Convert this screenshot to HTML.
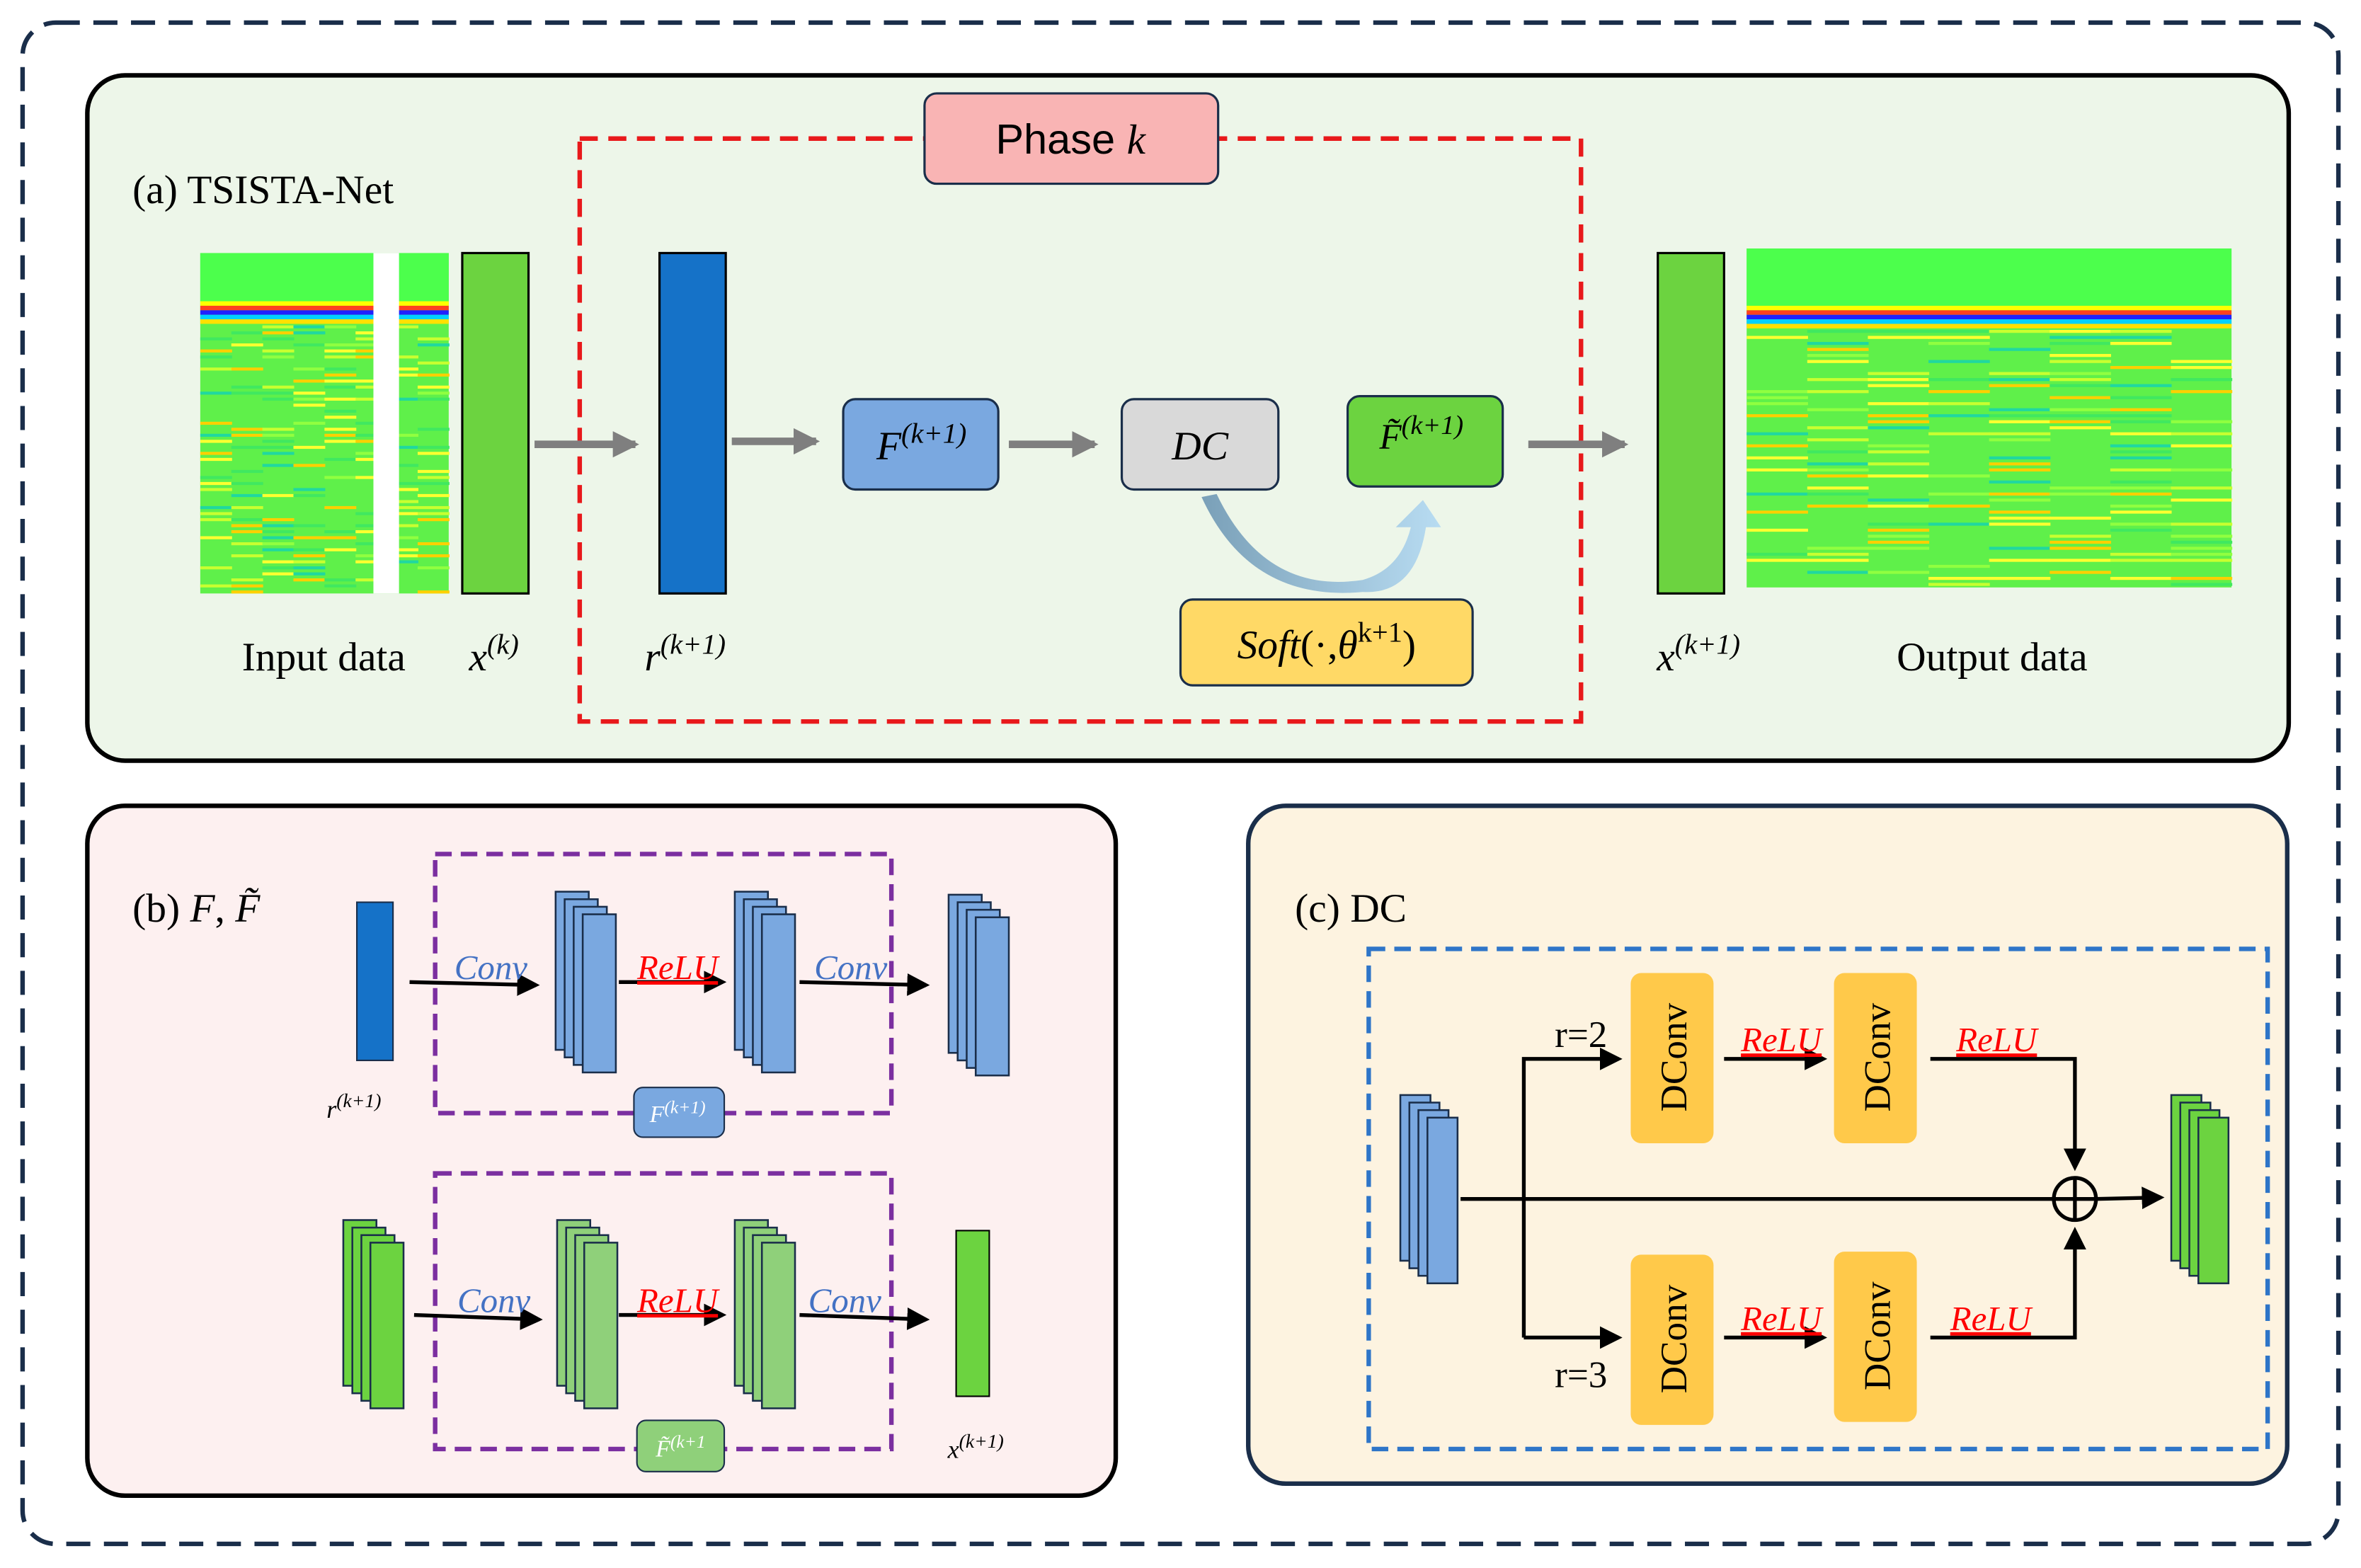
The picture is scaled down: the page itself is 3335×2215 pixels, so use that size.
<!DOCTYPE html>
<html><head><meta charset="utf-8"><style>
html,body{margin:0;padding:0;background:#fff}
svg{display:block}
text{font-family:"Liberation Serif",serif}
</style></head><body>
<svg id="s" width="3335" height="2215" viewBox="0 0 1568 1041" preserveAspectRatio="none" xmlns="http://www.w3.org/2000/svg">
<defs>
<marker id="ag" markerWidth="3.5" markerHeight="3.5" refX="3" refY="1.75" orient="auto" markerUnits="strokeWidth"><path d="M0,0 L3.5,1.75 L0,3.5 z" fill="#7f7f7f"/></marker>
<marker id="ab" markerWidth="6" markerHeight="6" refX="5" refY="3" orient="auto" markerUnits="strokeWidth"><path d="M0,0 L6,3 L0,6 z" fill="#000"/></marker>
<linearGradient id="cg" x1="0" y1="0" x2="1" y2="0"><stop offset="0" stop-color="#7aa0b8"/><stop offset="1" stop-color="#b8dcf2"/></linearGradient>
</defs>
<rect x="15" y="15" width="1538" height="1010" rx="22" fill="none" stroke="#1a2e4a" stroke-width="3" stroke-dasharray="16,9"/>
<!-- panel a -->
<rect x="58" y="50" width="1462" height="455" rx="25" fill="#edf6e9" stroke="#000" stroke-width="3"/>
<rect x="385" y="92" width="665" height="387" fill="none" stroke="#e8191b" stroke-width="3" stroke-dasharray="12,7"/>
<rect x="614" y="62" width="195" height="60" rx="8" fill="#f9b4b4" stroke="#1a2e4a" stroke-width="1.5"/>
<text x="711" y="102" font-size="28" text-anchor="middle" style="font-family:'Liberation Sans',sans-serif">Phase <tspan font-style="italic" style="font-family:'Liberation Serif',serif">k</tspan></text>
<text x="88" y="135" font-size="27">(a) TSISTA-Net</text>
<g id="inimg"></g>
<g id="outimg"></g>
<rect x="307" y="168" width="44" height="226" fill="#6cd340" stroke="#000" stroke-width="1.5"/>
<rect x="438" y="168" width="44" height="226" fill="#1572c8" stroke="#000" stroke-width="1.5"/>
<rect x="1101" y="168" width="44" height="226" fill="#6cd340" stroke="#000" stroke-width="1.5"/>
<g stroke="#7f7f7f" stroke-width="5" fill="none">
<line x1="355" y1="295" x2="422" y2="295" marker-end="url(#ag)"/>
<line x1="486" y1="293" x2="542" y2="293" marker-end="url(#ag)"/>
<line x1="670" y1="295" x2="727" y2="295" marker-end="url(#ag)"/>
<line x1="1015" y1="295" x2="1079" y2="295" marker-end="url(#ag)"/>
</g>
<rect x="560" y="265" width="103" height="60" rx="8" fill="#7aa8e0" stroke="#1a2e4a" stroke-width="1.5"/>
<text x="612" y="305" font-size="27" text-anchor="middle" font-style="italic">F<tspan font-size="19" dy="-11">(k+1)</tspan></text>
<rect x="745" y="265" width="104" height="60" rx="8" fill="#d9d9d9" stroke="#1a2e4a" stroke-width="1.5"/>
<text x="797" y="305" font-size="27" text-anchor="middle" font-style="italic">DC</text>
<rect x="895" y="263" width="103" height="60" rx="8" fill="#6cd340" stroke="#1a2e4a" stroke-width="1.5"/>
<text x="944" y="298" font-size="24" text-anchor="middle" font-style="italic">F̃<tspan font-size="18" dy="-10">(k+1)</tspan></text>
<path d="M808,328 Q840,395 905,385 Q930,378 937,350 L927,350 L945,332 L957,350 L947,350 Q940,395 905,393 Q830,400 798,330 z" fill="url(#cg)"/>
<rect x="784" y="398" width="194" height="57" rx="8" fill="#ffd966" stroke="#1a2e4a" stroke-width="1.5"/>
<text x="881" y="437" font-size="27" text-anchor="middle"><tspan font-style="italic">Soft</tspan>(·,<tspan font-style="italic">θ</tspan><tspan font-size="19" dy="-11">k+1</tspan><tspan dy="11">)</tspan></text>
<text x="215" y="445" font-size="27" text-anchor="middle">Input data</text>
<text x="328" y="445" font-size="27" text-anchor="middle" font-style="italic">x<tspan font-size="19" dy="-11">(k)</tspan></text>
<text x="455" y="445" font-size="27" text-anchor="middle" font-style="italic">r<tspan font-size="19" dy="-11">(k+1)</tspan></text>
<text x="1128" y="445" font-size="27" text-anchor="middle" font-style="italic">x<tspan font-size="19" dy="-11">(k+1)</tspan></text>
<text x="1323" y="445" font-size="27" text-anchor="middle">Output data</text>
<!-- panel b -->
<rect x="58" y="535" width="683" height="458" rx="25" fill="#fdf0f0" stroke="#000" stroke-width="3"/>
<text x="88" y="612" font-size="27">(b) <tspan font-style="italic">F</tspan>, <tspan font-style="italic">F̃</tspan></text>
<rect x="289" y="567" width="303" height="172" fill="none" stroke="#7b2fa0" stroke-width="3" stroke-dasharray="11,6"/>
<rect x="289" y="779" width="303" height="183" fill="none" stroke="#7b2fa0" stroke-width="3" stroke-dasharray="11,6"/>
<rect x="237" y="599" width="24" height="105" fill="#1572c8" stroke="#1a2e4a"/>
<text x="235" y="742" font-size="17" text-anchor="middle" font-style="italic">r<tspan font-size="13" dy="-7">(k+1)</tspan></text>
<g id="stacks"></g>
<rect x="635" y="817" width="22" height="110" fill="#6cd340" stroke="#000"/>
<text x="648" y="968" font-size="17" text-anchor="middle" font-style="italic">x<tspan font-size="13" dy="-7">(k+1)</tspan></text>
<g stroke="#000" stroke-width="2.5" fill="none">
<line x1="272" y1="652" x2="356" y2="654" marker-end="url(#ab)"/>
<line x1="411" y1="652" x2="480" y2="652" marker-end="url(#ab)"/>
<line x1="531" y1="652" x2="615" y2="654" marker-end="url(#ab)"/>
<line x1="275" y1="873" x2="358" y2="876" marker-end="url(#ab)"/>
<line x1="411" y1="873" x2="480" y2="873" marker-end="url(#ab)"/>
<line x1="531" y1="873" x2="615" y2="876" marker-end="url(#ab)"/>
</g>
<g font-size="23" font-style="italic" text-anchor="middle">
<text x="326" y="650" fill="#4472c4">Conv</text>
<text x="450" y="650" fill="#ff0000" text-decoration="underline">ReLU</text>
<text x="565" y="650" fill="#4472c4">Conv</text>
<text x="328" y="871" fill="#4472c4">Conv</text>
<text x="450" y="871" fill="#ff0000" text-decoration="underline">ReLU</text>
<text x="561" y="871" fill="#4472c4">Conv</text>
</g>
<rect x="421" y="722" width="60" height="33" rx="6" fill="#7aa8e0" stroke="#1a2e4a"/>
<text x="450" y="745" font-size="16" text-anchor="middle" fill="#fff" font-style="italic">F<tspan font-size="12" dy="-6">(k+1)</tspan></text>
<rect x="423" y="943" width="58" height="34" rx="6" fill="#8fd07a" stroke="#1a2e4a"/>
<text x="452" y="967" font-size="16" text-anchor="middle" fill="#fff" font-style="italic">F̃<tspan font-size="12" dy="-6">(k+1</tspan></text>
<!-- panel c -->
<rect x="829" y="535" width="690" height="450" rx="25" fill="#fdf3e0" stroke="#1a2e4a" stroke-width="3"/>
<text x="860" y="612" font-size="27">(c) DC</text>
<rect x="909" y="630" width="597" height="332" fill="none" stroke="#2e75c8" stroke-width="3" stroke-dasharray="11,6"/>
<g id="stacksc"></g>
<g stroke="#000" stroke-width="2.5" fill="none">
<line x1="970" y1="796" x2="1364" y2="796"/>
<line x1="1392" y1="796" x2="1435" y2="795" marker-end="url(#ab)"/>
<polyline points="1012,888 1012,703 1075,703" marker-end="url(#ab)"/>
<line x1="1012" y1="888" x2="1075" y2="888" marker-end="url(#ab)"/>
<line x1="1145" y1="703" x2="1211" y2="703" marker-end="url(#ab)"/>
<line x1="1145" y1="888" x2="1211" y2="888" marker-end="url(#ab)"/>
<polyline points="1282,703 1378,703 1378,775" marker-end="url(#ab)"/>
<polyline points="1282,888 1378,888 1378,817" marker-end="url(#ab)"/>
<circle cx="1378" cy="796" r="14"/>
<line x1="1364" y1="796" x2="1392" y2="796"/><line x1="1378" y1="782" x2="1378" y2="810"/>
</g>
<g fill="#ffc94a">
<rect x="1083" y="646" width="55" height="113" rx="7"/>
<rect x="1218" y="646" width="55" height="113" rx="7"/>
<rect x="1083" y="833" width="55" height="113" rx="7"/>
<rect x="1218" y="831" width="55" height="113" rx="7"/>
</g>
<g font-size="25" text-anchor="middle">
<text transform="translate(1120,702) rotate(-90)">DConv</text>
<text transform="translate(1255,702) rotate(-90)">DConv</text>
<text transform="translate(1120,889) rotate(-90)">DConv</text>
<text transform="translate(1255,887) rotate(-90)">DConv</text>
</g>
<text x="1050" y="695" font-size="25" text-anchor="middle">r=2</text>
<text x="1050" y="921" font-size="25" text-anchor="middle">r=3</text>
<g font-size="23" font-style="italic" text-anchor="middle" fill="#ff0000" text-decoration="underline">
<text x="1183" y="698">ReLU</text><text x="1326" y="698">ReLU</text>
<text x="1183" y="883">ReLU</text><text x="1322" y="883">ReLU</text>
</g>
</svg>
<script>
var NS="http://www.w3.org/2000/svg";
function R(p,x,y,w,h,f,s){var r=document.createElementNS(NS,"rect");r.setAttribute("x",x);r.setAttribute("y",y);r.setAttribute("width",w);r.setAttribute("height",h);r.setAttribute("fill",f);if(s){r.setAttribute("stroke",s);r.setAttribute("stroke-width","1.2");}p.appendChild(r);}
var seed=7;function rnd(){seed=(seed*9301+49297)%233280;return seed/233280;}
function img(id,x,y,w,h,top){var g=document.getElementById(id);R(g,x,y,w,h,"#5ff04a");R(g,x,y,w,top,"#4cff4c");
R(g,x,y+top,w,3,"#ffff00");R(g,x,y+top+3,w,3,"#ff4020");R(g,x,y+top+6,w,3,"#2020ff");R(g,x,y+top+9,w,3,"#00d0ff");R(g,x,y+top+12,w,3,"#ffe000");
var cols=["#ffff30","#c8ff30","#40e860","#20d8a0","#ffd000","#90ff40"];
for(var yy=y+top+16;yy<y+h;yy+=4){for(var xx=x;xx<x+w;xx+=w/8){if(rnd()<0.45)R(g,xx,yy,w/8+0.5,2,cols[Math.floor(rnd()*cols.length)]);}}}
img("inimg",133,168,165,226,32);
var ig=document.getElementById("inimg");R(ig,248,168,17,226,"#ffffff");
img("outimg",1160,165,322,225,38);
function stack(gid,x,y,w,h,n,f){var g=document.getElementById(gid);for(var i=0;i<n;i++)R(g,x+i*6,y+i*5,w,h,f,"#1a2e4a");}
stack("stacks",369,592,22,105,4,"#7aa8e0");
stack("stacks",488,592,22,105,4,"#7aa8e0");
stack("stacks",630,594,22,105,4,"#7aa8e0");
stack("stacks",228,810,22,110,4,"#6cd340");
stack("stacks",370,810,22,110,4,"#8fd07a");
stack("stacks",488,810,22,110,4,"#8fd07a");
stack("stacksc",930,727,20,110,4,"#7aa8e0");
stack("stacksc",1442,727,20,110,4,"#6cd340");
</script>
</body></html>
